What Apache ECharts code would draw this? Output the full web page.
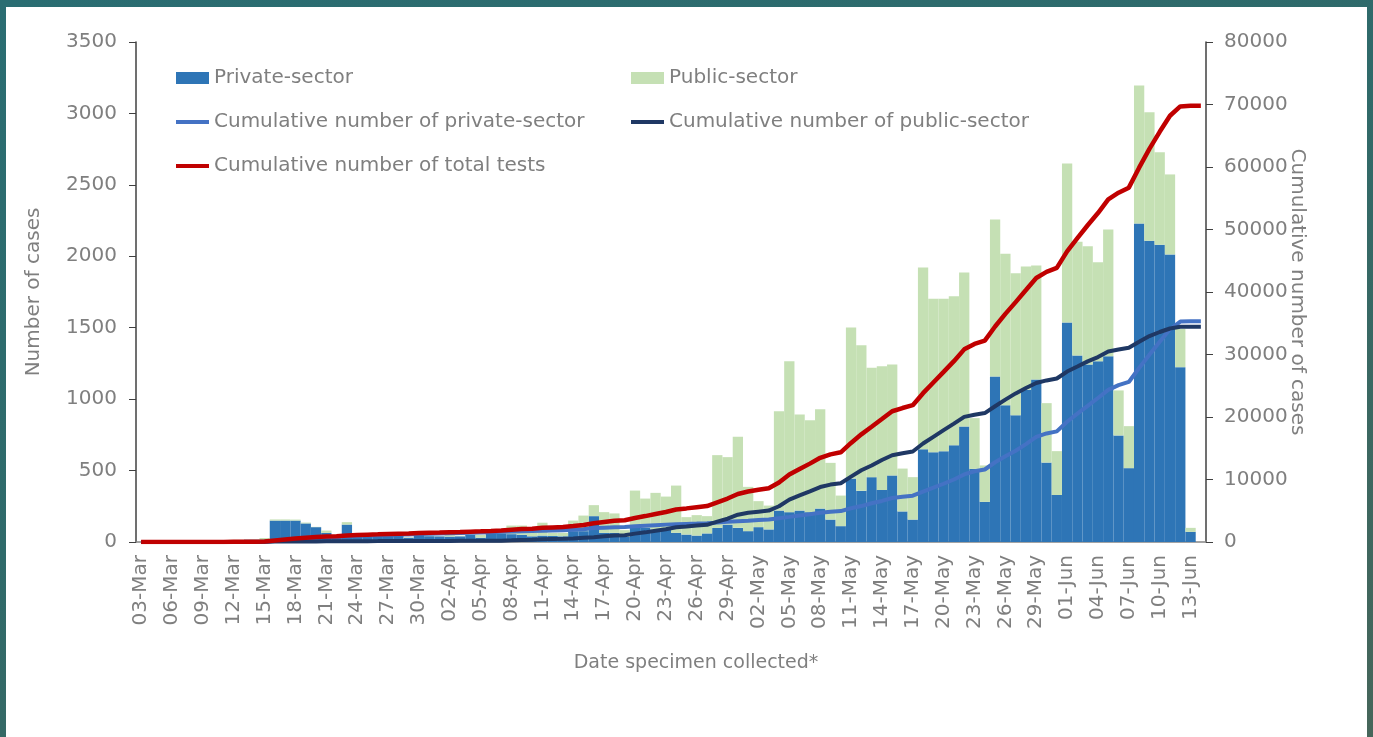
<!DOCTYPE html>
<html>
<head>
<meta charset="utf-8">
<script src="https://cdn.jsdelivr.net/npm/echarts@6/dist/echarts.min.js"></script>
<style>
html, body { margin: 0; padding: 0; width: 1373px; height: 737px; overflow: hidden;
  background: linear-gradient(160deg, #2a6d72 0%, #2f6a6a 45%, #46665a 100%); }
#panel { position: absolute; left: 6px; top: 7px; width: 1361px; height: 730px; background: #fff; }
#chart { position: absolute; left: 0; top: 0; width: 1373px; height: 737px; }
</style>
</head>
<body>
<div id="panel"></div>
<div id="chart"></div>
<script>
// specimen dates, 03-Mar to 14-Jun
let dates = [
    '03-Mar','04-Mar','05-Mar','06-Mar','07-Mar','08-Mar','09-Mar','10-Mar','11-Mar','12-Mar',
    '13-Mar','14-Mar','15-Mar','16-Mar','17-Mar','18-Mar','19-Mar','20-Mar','21-Mar','22-Mar',
    '23-Mar','24-Mar','25-Mar','26-Mar','27-Mar','28-Mar','29-Mar','30-Mar','31-Mar',
    '01-Apr','02-Apr','03-Apr','04-Apr','05-Apr','06-Apr','07-Apr','08-Apr','09-Apr','10-Apr',
    '11-Apr','12-Apr','13-Apr','14-Apr','15-Apr','16-Apr','17-Apr','18-Apr','19-Apr','20-Apr',
    '21-Apr','22-Apr','23-Apr','24-Apr','25-Apr','26-Apr','27-Apr','28-Apr','29-Apr','30-Apr',
    '01-May','02-May','03-May','04-May','05-May','06-May','07-May','08-May','09-May','10-May',
    '11-May','12-May','13-May','14-May','15-May','16-May','17-May','18-May','19-May','20-May',
    '21-May','22-May','23-May','24-May','25-May','26-May','27-May','28-May','29-May','30-May','31-May',
    '01-Jun','02-Jun','03-Jun','04-Jun','05-Jun','06-Jun','07-Jun','08-Jun','09-Jun','10-Jun',
    '11-Jun','12-Jun','13-Jun','14-Jun'
];

// daily tests
let privateSector = [
    0,0,0,0,0,0,0,1,2,5,5,5,10,150,150,150,130,104,64,30,122,55,50,50,48,50,30,55,41,
    40,38,40,50,30,60,60,55,50,40,45,42,40,76,76,181,64,64,35,111,100,88,88,64,52,45,60,99,122,99,
    76,104,88,220,209,220,209,234,157,111,444,358,454,364,466,214,157,650,629,636,678,809,512,281,1159,958,888,1065,1138,556,329,
    1537,1306,1243,1266,1301,746,517,2230,2108,2080,2013,1224,71
];
let publicSector = [
    0,0,0,0,0,1,2,2,3,10,10,11,18,8,8,7,6,2,16,8,17,5,5,5,8,5,3,3,3,
    2,10,4,2,20,4,6,60,65,26,90,22,24,74,109,77,145,136,48,249,204,256,230,331,122,143,121,509,472,637,
    310,182,167,696,1057,673,644,696,397,214,1058,1020,765,867,777,300,297,1271,1073,1066,1043,1077,355,255,1099,1059,994,864,798,416,307,
    1113,795,828,693,887,315,294,966,901,649,560,268,28
];

// cumulative numbers (right axis)
let cumPrivate = [
    0,0,0,0,0,0,0,1,3,8,13,18,28,178,328,478,608,712,776,806,928,983,1033,1083,1131,1181,1211,1266,1307,
    1347,1385,1425,1475,1505,1565,1625,1680,1730,1770,1815,1857,1897,1973,2049,2230,2294,2358,2393,2504,2604,2692,2780,2844,2896,2941,3001,3100,3222,3321,
    3397,3501,3589,3809,4018,4238,4447,4681,4838,4949,5393,5751,6205,6569,7035,7249,7406,8056,8685,9321,9999,10808,11320,11601,12760,13718,14606,15671,16809,17365,17694,
    19231,20537,21780,23046,24347,25093,25610,27840,29948,32028,34041,35265,35336,35336
];
let cumPublic = [
    0,0,0,0,0,1,3,5,8,18,28,39,57,65,73,80,86,88,104,112,129,134,139,144,152,157,160,163,166,
    168,178,182,184,204,208,214,274,339,365,455,477,501,575,684,761,906,1042,1090,1339,1543,1799,2029,2360,2482,2625,2746,3255,3727,4364,
    4674,4856,5023,5719,6776,7449,8093,8789,9186,9400,10458,11478,12243,13110,13887,14187,14484,15755,16828,17894,18937,20014,20369,20624,21723,22782,23776,24640,25438,25854,26161,
    27274,28069,28897,29590,30477,30792,31086,32052,32953,33602,34162,34430,34458,34458
];
let cumTotal = [
    0,0,0,0,0,1,3,6,11,26,41,57,85,243,401,558,694,800,880,918,1057,1117,1172,1227,1283,1338,1371,1429,1473,
    1515,1563,1607,1659,1709,1773,1839,1954,2069,2135,2270,2334,2398,2548,2733,2991,3200,3400,3483,3843,4147,4491,4809,5204,5378,5566,5747,6355,6949,7685,
    8071,8357,8612,9528,10794,11687,12540,13470,14024,14349,15851,17229,18448,19679,20922,21436,21890,23811,25513,27215,28936,30822,31689,32225,34483,36500,38382,40311,42247,43219,43855,
    46505,48606,50677,52636,54824,55885,56696,59892,62901,65630,68203,69695,69794,69794
];

let grey = '#7f7f7f';
let font = 'DejaVu Sans';
let fs = 20;
let lineIcon = 'path://M0,0H33V4H0Z';

let chart = echarts.init(document.getElementById('chart'));
let legendText = { color: grey, fontSize: fs, fontFamily: font };
let option = {
    animation: false,
    textStyle: { fontFamily: font },
    grid: { left: 136, right: 167, top: 42, bottom: 195 },
    legend: [{
        left: 176,
        top: 68,
        padding: 0,
        orient: 'vertical',
        itemGap: 24,
        itemWidth: 33,
        itemHeight: 12,
        textStyle: legendText,
        data: [{ name: 'Private-sector', icon: 'rect' },
            { name: 'Cumulative number of private-sector', icon: lineIcon },
            { name: 'Cumulative number of total tests', icon: lineIcon }]
    }, {
        left: 631,
        top: 68,
        padding: 0,
        orient: 'vertical',
        itemGap: 24,
        itemWidth: 33,
        itemHeight: 12,
        textStyle: legendText,
        data: [{ name: 'Public-sector', icon: 'rect' },
            { name: 'Cumulative number of public-sector', icon: lineIcon }]
    }],
    xAxis: {
        type: 'category',
        data: dates,
        boundaryGap: true,
        name: 'Date specimen collected*',
        nameLocation: 'middle',
        nameGap: 112,
        nameTextStyle: { color: grey, fontSize: fs - 1, padding: [0, 0, 0, 50] },
        axisLine: { lineStyle: { color: '#868686', width: 1.5 } },
        axisTick: { show: false },
        axisLabel: { interval: 2, rotate: 90, color: grey, fontSize: fs, margin: 13 }
    },
    yAxis: [{
        type: 'value',
        min: 0,
        max: 3500,
        interval: 500,
        name: 'Number of cases',
        nameLocation: 'middle',
        nameGap: 92,
        nameRotate: 90,
        nameTextStyle: { color: grey, fontSize: fs },
        axisLine: { show: true, lineStyle: { color: '#404040', width: 1.5 } },
        axisTick: { show: true, length: 7, lineStyle: { color: '#404040' } },
        axisLabel: { color: grey, fontSize: fs, margin: 19, formatter: function (v) { return String(v); } },
        splitLine: { show: false }
    }, {
        type: 'value',
        position: 'right',
        min: 0,
        max: 80000,
        interval: 10000,
        name: 'Cumulative number of cases',
        nameLocation: 'middle',
        nameGap: 81,
        nameRotate: -90,
        nameMoveOverlap: false,
        nameTextStyle: { color: grey, fontSize: fs },
        axisLine: { show: true, lineStyle: { color: '#404040', width: 1.5 } },
        axisTick: { show: true, length: 7, lineStyle: { color: '#404040' } },
        axisLabel: { color: grey, fontSize: fs, margin: 18, formatter: function (v) { return String(v); } },
        splitLine: { show: false }
    }],
    series: [{
        name: 'Private-sector',
        type: 'bar',
        stack: 'tests',
        barCategoryGap: '0%',
        itemStyle: { color: '#2e75b6' },
        data: privateSector
    }, {
        name: 'Public-sector',
        type: 'bar',
        stack: 'tests',
        barCategoryGap: '0%',
        itemStyle: { color: '#c5e0b4' },
        data: publicSector
    }, {
        name: 'Cumulative number of private-sector',
        type: 'line',
        yAxisIndex: 1,
        symbol: 'none',
        itemStyle: { color: '#4472c4' },
        lineStyle: { color: '#4472c4', width: 4 },
        data: cumPrivate
    }, {
        name: 'Cumulative number of public-sector',
        type: 'line',
        yAxisIndex: 1,
        symbol: 'none',
        itemStyle: { color: '#1f3864' },
        lineStyle: { color: '#1f3864', width: 4 },
        data: cumPublic
    }, {
        name: 'Cumulative number of total tests',
        type: 'line',
        yAxisIndex: 1,
        symbol: 'none',
        itemStyle: { color: '#c00000' },
        lineStyle: { color: '#c00000', width: 4.5 },
        data: cumTotal
    }]
};
chart.setOption(option);
</script>
</body>
</html>
